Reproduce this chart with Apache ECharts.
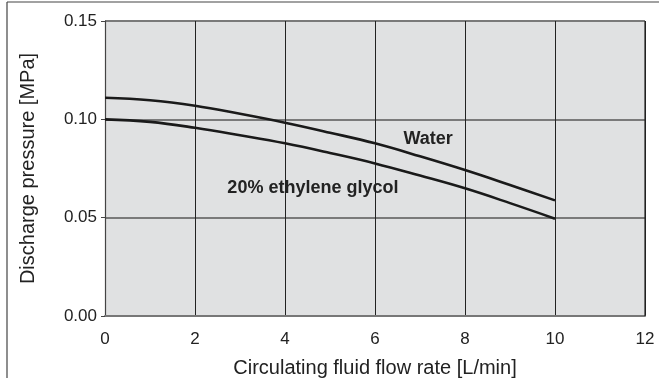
<!DOCTYPE html>
<html>
<head>
<meta charset="utf-8">
<script src="https://cdn.jsdelivr.net/npm/echarts@6/dist/echarts.min.js"></script>
<style>
  html, body { margin: 0; padding: 0; background: #fff; }
  #chart { width: 659px; height: 378px; }
</style>
</head>
<body>
<div id="chart"></div>
<script>
// Flow rate [L/min] sample points along each pump curve
const flowRate = [0, 1, 2, 3, 4, 5, 6, 7, 8, 9, 10];
// Discharge pressure [MPa]
const waterPressure  = [0.111, 0.1097, 0.1069, 0.1028, 0.0983, 0.0932, 0.0878, 0.0812, 0.0742, 0.0666, 0.0588];
const glycolPressure = [0.100, 0.0987, 0.0957, 0.0919, 0.0878, 0.0829, 0.0776, 0.0714, 0.0649, 0.0574, 0.0495];
const xTicks = [0, 2, 4, 6, 8, 10, 12];
const yTicks = [0.00, 0.05, 0.10, 0.15];
const seriesNames = ['Water', '20% ethylene glycol'];
// Curve label anchor positions (data coordinates)
const labelAnchors = [[7.18, 0.090], [4.62, 0.0651]];

const font = 'Liberation Sans, Arial, Helvetica, sans-serif';
const chart = echarts.init(document.getElementById('chart'), null, { renderer: 'canvas' });

function curve(name, ys, anchor) {
  return {
    name: name,
    type: 'line',
    smooth: 0.4,
    symbol: 'none',
    data: flowRate.map((x, i) => [x, ys[i]]),
    lineStyle: { color: '#1a1a1a', width: 2.6 },
    z: 5,
    markPoint: {
      symbol: 'circle',
      symbolSize: 0,
      data: [{ coord: anchor }],
      label: {
        show: true,
        position: 'inside',
        formatter: name,
        color: '#222',
        fontFamily: font,
        fontWeight: 'bold',
        fontSize: 18
      }
    }
  };
}

chart.setOption({
  animation: false,
  backgroundColor: '#fff',
  grid: {
    left: 105, right: 14, top: 21, bottom: 62,
    outerBoundsMode: 'none',
    containLabel: false,
    show: true,
    backgroundColor: '#e0e1e2',
    borderWidth: 0
  },
  xAxis: {
    type: 'value',
    min: xTicks[0], max: xTicks[xTicks.length - 1], interval: 2,
    name: 'Circulating fluid flow rate [L/min]',
    nameLocation: 'middle',
    nameGap: 42,
    nameTextStyle: { color: '#222', fontFamily: font, fontSize: 20 },
    axisLine: { show: true, lineStyle: { color: '#777', width: 2 } },
    axisTick: { show: false },
    axisLabel: { color: '#222', fontFamily: font, fontSize: 17, margin: 15,
                 formatter: v => xTicks.includes(v) ? String(v) : '' },
    splitLine: { show: true, lineStyle: { color: '#222', width: 1 } }
  },
  yAxis: {
    type: 'value',
    min: yTicks[0], max: yTicks[yTicks.length - 1], interval: 0.05,
    name: 'Discharge pressure [MPa]',
    nameLocation: 'middle',
    nameGap: 67,
    nameTextStyle: { color: '#222', fontFamily: font, fontSize: 20 },
    axisLine: { show: true, lineStyle: { color: '#444', width: 1.2 } },
    axisTick: { show: true, length: 4, lineStyle: { color: '#444' } },
    axisLabel: { color: '#222', fontFamily: font, fontSize: 17, margin: 8,
                 formatter: v => v.toFixed(2) },
    splitLine: { show: true, lineStyle: { color: '#7a7a7a', width: 2 } }
  },
  graphic: [
    { type: 'line', shape: { x1: 7, y1: 2, x2: 659, y2: 2 },
      style: { stroke: '#444', lineWidth: 1.2 } },
    { type: 'line', shape: { x1: 7, y1: 2, x2: 7, y2: 378 },
      style: { stroke: '#444', lineWidth: 1.2 } },
    { type: 'line', shape: { x1: 645, y1: 21, x2: 645, y2: 316 },
      style: { stroke: '#222', lineWidth: 1.2 }, z: 10 }
  ],
  series: [
    curve(seriesNames[0], waterPressure, labelAnchors[0]),
    curve(seriesNames[1], glycolPressure, labelAnchors[1])
  ]
});
</script>
</body>
</html>
